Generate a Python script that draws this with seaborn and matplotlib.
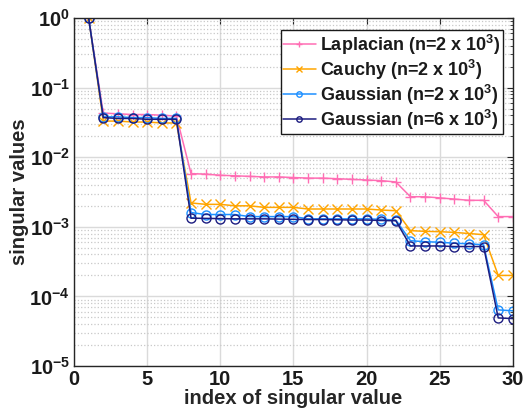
import numpy as np
import pandas as pd
import matplotlib
matplotlib.use("Agg")
import matplotlib.pyplot as plt
import seaborn as sns
from matplotlib.ticker import LogLocator, MultipleLocator, NullFormatter

# Singular value index
index = list(range(1, 31))

laplacian = [1, 0.043, 0.042, 0.041, 0.041, 0.040, 0.039,
             0.0058, 0.0057, 0.0055, 0.0054, 0.0053, 0.0052, 0.0052, 0.0051,
             0.0050, 0.0050, 0.0049, 0.0048, 0.0047, 0.0046, 0.0044,
             0.0027, 0.0027, 0.0026, 0.0025, 0.0024, 0.0024, 0.0014, 0.0014]
cauchy = [1, 0.033, 0.033, 0.032, 0.032, 0.031, 0.031,
          0.0022, 0.0021, 0.0021, 0.0020, 0.0020, 0.0019, 0.0019, 0.0019,
          0.0018, 0.0018, 0.0018, 0.0018, 0.0018, 0.00174, 0.0017,
          0.00088, 0.00086, 0.00085, 0.00083, 0.00080, 0.00077, 0.0002, 0.0002]
gauss_2k = [1, 0.038, 0.038, 0.037, 0.037, 0.036, 0.036,
            0.0016, 0.0015, 0.0015, 0.0015, 0.0014, 0.0014, 0.0014, 0.0014,
            0.0013, 0.0013, 0.0013, 0.0013, 0.0013, 0.00128, 0.00125,
            0.00063, 0.00061, 0.0006, 0.00058, 0.00057, 0.00055, 6.4e-5, 6.2e-5]
gauss_6k = [1, 0.037, 0.036, 0.036, 0.035, 0.035, 0.035,
            0.00133, 0.00132, 0.00131, 0.0013, 0.0013, 0.0013, 0.00129, 0.00128,
            0.00127, 0.00127, 0.00126, 0.00125, 0.00125, 0.00123, 0.00122,
            0.00053, 0.00053, 0.00053, 0.00052, 0.00052, 0.00052, 4.9e-5, 4.8e-5]

labels = ["Laplacian (n=2 x 10$^3$)", "Cauchy (n=2 x 10$^3$)",
          "Gaussian (n=2 x 10$^3$)", "Gaussian (n=6 x 10$^3$)"]
colors = ["#FF6EB4", "#FFA500", "#1E90FF", "#1C1C80"]
markers = ["+", "x", "o", "o"]

sns.set_theme(style="white")
plt.rcParams["font.family"] = ["Liberation Sans", "DejaVu Sans"]
plt.rcParams["font.weight"] = "bold"
plt.rcParams["mathtext.fontset"] = "custom"
plt.rcParams["mathtext.rm"] = "Liberation Sans:bold"
plt.rcParams["mathtext.it"] = "Liberation Sans:bold"
plt.rcParams["mathtext.bf"] = "Liberation Sans:bold"
plt.rcParams["mathtext.default"] = "rm"

fig = plt.figure(figsize=(5.26, 4.12), dpi=100)
ax = fig.add_axes([0.1407, 0.1117, 0.8343, 0.8447])

series = [laplacian, cauchy, gauss_2k, gauss_6k]
for vals, lab, col, mk in zip(series, labels, colors, markers):
    df = pd.DataFrame({"index": index, "value": vals})
    sns.lineplot(data=df, x="index", y="value", ax=ax, color=col,
                 marker=mk, markersize=6.5, markerfacecolor="none",
                 markeredgecolor=col, markeredgewidth=1.0, linewidth=1.1,
                 label=lab)

ax.set_yscale("log")
ax.set_xlim(0, 30)
ax.set_ylim(1e-5, 1)
ax.xaxis.set_major_locator(MultipleLocator(5))
ax.yaxis.set_major_locator(LogLocator(base=10, numticks=10))
ax.yaxis.set_minor_locator(LogLocator(base=10, subs=np.arange(2, 10), numticks=20))
ax.yaxis.set_minor_formatter(NullFormatter())

ax.grid(True, which="major", color="#DADADA", linestyle="-", linewidth=1.0)
ax.grid(True, which="minor", axis="y", color="#C8C8C8", linestyle=":", linewidth=0.9)
ax.set_axisbelow(True)

ax.tick_params(axis="both", which="both", direction="in", top=True, right=True,
               labelsize=14.5, colors="#262626")
ax.tick_params(axis="both", which="major", length=4, width=0.8)
ax.tick_params(axis="y", which="minor", length=2.5, width=0.6)
ax.tick_params(axis="both", labelcolor="#1a1a1a", pad=3)
for lbl in ax.get_xticklabels() + ax.get_yticklabels():
    lbl.set_fontweight("bold")
for sp in ax.spines.values():
    sp.set_color("#262626")
    sp.set_linewidth(1.0)

ax.set_xlabel("index of singular value", fontsize=14.5, fontweight="bold",
              color="#262626", labelpad=0)
ax.set_ylabel("singular values", fontsize=14.5, fontweight="bold",
              color="#262626", labelpad=0)

leg = ax.legend(loc="upper right", fontsize=13, frameon=True, fancybox=False,
                edgecolor="#1a1a1a", framealpha=1, borderpad=0.15,
                labelspacing=0.05, handlelength=1.8, handletextpad=0.25,
                markerscale=0.6, bbox_to_anchor=(0.978, 0.966),
                borderaxespad=0)
leg.get_frame().set_linewidth(1.0)
for t in leg.get_texts():
    t.set_fontweight("bold")
    t.set_color("#1a1a1a")

fig.savefig("out.png", dpi=100)
